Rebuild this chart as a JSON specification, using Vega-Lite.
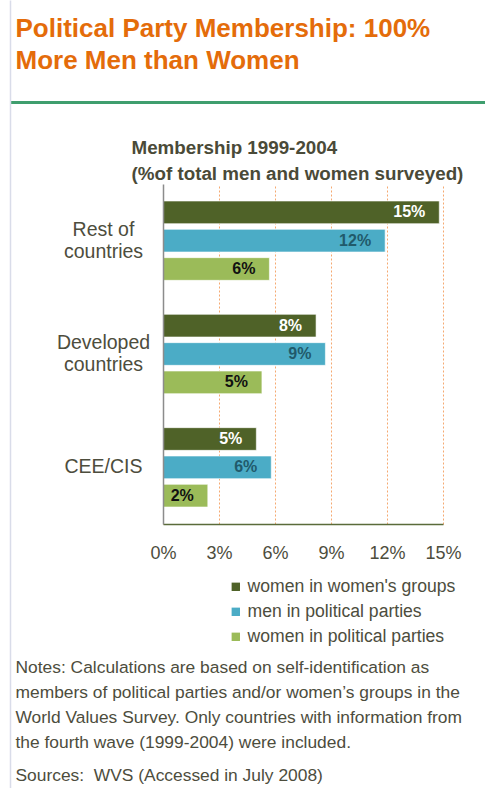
{
  "$schema": "https://vega.github.io/schema/vega-lite/v6.json",
  "width": 280,
  "height": 340,
  "autosize": {"type": "none"},
  "padding": {"left": 163, "top": 184, "right": 42, "bottom": 264},
  "background": "white",
  "config": {
    "view": {"stroke": null},
    "font": "Liberation Sans",
    "axisX": {"gridColor": "#f5a970", "gridDash": [2, 2], "gridWidth": 1}
  },
  "data": {
    "values": [
      {"region": "Rest of countries", "series": "women in women's groups", "value": 0.148},
      {"region": "Rest of countries", "series": "men in political parties", "value": 0.119},
      {"region": "Rest of countries", "series": "women in political parties", "value": 0.057},
      {"region": "Developed countries", "series": "women in women's groups", "value": 0.082},
      {"region": "Developed countries", "series": "men in political parties", "value": 0.087},
      {"region": "Developed countries", "series": "women in political parties", "value": 0.053},
      {"region": "CEE/CIS", "series": "women in women's groups", "value": 0.050},
      {"region": "CEE/CIS", "series": "men in political parties", "value": 0.058},
      {"region": "CEE/CIS", "series": "women in political parties", "value": 0.024}
    ]
  },
  "layer": [
    {
      "layer": [
        {
          "mark": {"type": "bar", "stroke": "#ffffff", "strokeWidth": 1, "strokeOpacity": 0.6},
          "encoding": {
            "y": {
              "field": "region",
              "type": "nominal",
              "sort": ["Rest of countries", "Developed countries", "CEE/CIS"],
              "scale": {"paddingInner": 0.3, "paddingOuter": 0.15},
              "axis": {
                "title": ["Membership 1999-2004", "(%of total men and women surveyed)"],
                "titleAngle": 0,
                "titleAlign": "left",
                "titleBaseline": "alphabetic",
                "titleX": -32,
                "titleY": -31,
                "titleFontSize": 18.8,
                "titleFontWeight": "bold",
                "titleColor": "#4a4a38",
                "titleLineHeight": 26.5,
                "domainColor": "#8c8c8c",
                "domainWidth": 1.5,
                "ticks": false,
                "tickSize": 0,
                "labelAlign": "center",
                "labelBaseline": "middle",
                "labelPadding": 60,
                "labelOffset": {"condition": {"test": "datum.value == 'CEE/CIS'", "value": 0}, "value": -11},
                "labelFontSize": 19.5,
                "labelColor": "#4d4d3d",
                "labelLineHeight": 22,
                "labelExpr": "datum.value == 'Rest of countries' ? ['Rest of', 'countries'] : datum.value == 'Developed countries' ? ['Developed', 'countries'] : datum.value",
                "zindex": 1
              }
            },
            "yOffset": {
              "field": "series",
              "type": "nominal",
              "sort": ["women in women's groups", "men in political parties", "women in political parties"],
              "scale": {"paddingInner": 0.2, "paddingOuter": 0}
            },
            "x": {
              "field": "value",
              "type": "quantitative",
              "scale": {"domain": [0, 0.15], "nice": false},
              "axis": {
                "format": ".0%",
                "values": [0, 0.03, 0.06, 0.09, 0.12, 0.15],
                "grid": true,
                "gridColor": "#f5a970",
                "gridDash": [2, 2],
                "gridWidth": 1,
                "ticks": false,
                "tickSize": 0,
                "domainColor": "#5a6b3a",
                "domainWidth": 1.5,
                "labelFontSize": 18,
                "labelColor": "#4d4d3d",
                "labelPadding": 20,
                "labelFlush": false,
                "title": [
                  "Notes: Calculations are based on self-identification as",
                  "members of political parties and/or women’s groups in the",
                  "World Values Survey. Only countries with information from",
                  "the fourth wave (1999-2004) were included."
                ],
                "titleX": -148,
                "titleY": 148.7,
                "titleAlign": "left",
                "titleAngle": 0,
                "titleBaseline": "alphabetic",
                "titleFontSize": 17.4,
                "titleFontWeight": "normal",
                "titleColor": "#4d4d3d",
                "titleLineHeight": 25
              }
            },
            "color": {
              "field": "series",
              "type": "nominal",
              "scale": {
                "domain": ["women in women's groups", "men in political parties", "women in political parties"],
                "range": ["#4f6228", "#4bacc6", "#9bbb59"]
              },
              "legend": {
                "orient": "none",
                "legendX": 64,
                "legendY": 394,
                "title": null,
                "symbolType": "square",
                "symbolSize": 70,
                "symbolStrokeWidth": 0,
                "labelFontSize": 17.6,
                "labelColor": "#4d4d3d",
                "rowPadding": 6,
                "labelOffset": 3,
                "padding": 0,
                "labelLimit": 300
              }
            }
          }
        },
        {
          "mark": {"type": "text", "align": "right", "dx": -14, "baseline": "middle", "fontWeight": "bold", "fontSize": 16},
          "encoding": {
            "y": {"field": "region", "type": "nominal", "sort": ["Rest of countries", "Developed countries", "CEE/CIS"]},
            "yOffset": {"field": "series", "type": "nominal", "sort": ["women in women's groups", "men in political parties", "women in political parties"]},
            "x": {"field": "value", "type": "quantitative"},
            "text": {"field": "value", "type": "quantitative", "format": ".0%"},
            "color": {
              "condition": [
                {"test": "indexof(datum.series, 'groups') >= 0", "value": "#ffffff"},
                {"test": "indexof(datum.series, 'men in') == 0", "value": "#215a6b"}
              ],
              "value": "#111111"
            }
          }
        }
      ]
    },
    {
      "mark": {"type": "point", "opacity": 0},
      "encoding": {
        "x": {
          "field": "value",
          "type": "quantitative",
          "scale": {"domain": [0, 0.15], "range": [-153, 322], "nice": false},
          "axis": {
            "orient": "top",
            "offset": 82,
            "domainColor": "#3f9e6e",
            "domainWidth": 3,
            "labels": false,
            "ticks": false,
            "grid": false,
            "title": ["Political Party Membership: 100%", "More Men than Women"],
            "titleX": -148,
            "titleY": -65.3,
            "titleAlign": "left",
            "titleAngle": 0,
            "titleBaseline": "alphabetic",
            "titleFontSize": 26,
            "titleFontWeight": "bold",
            "titleColor": "#e46c0a",
            "titleLineHeight": 31.5
          }
        },
        "y": {
          "field": "value",
          "type": "quantitative",
          "scale": {"domain": [0, 0.15], "range": [604, -184], "nice": false},
          "axis": {
            "orient": "left",
            "offset": 153,
            "domainColor": "#d9dce9",
            "domainWidth": 1.5,
            "labels": false,
            "ticks": false,
            "grid": false,
            "title": "Sources:\u00a0 WVS (Accessed in July 2008)",
            "titleX": 5,
            "titleY": 596,
            "titleAlign": "left",
            "titleAngle": 0,
            "titleBaseline": "alphabetic",
            "titleFontSize": 17.4,
            "titleFontWeight": "normal",
            "titleColor": "#4d4d3d"
          }
        }
      }
    }
  ],
  "resolve": {
    "scale": {"x": "independent", "y": "independent"},
    "axis": {"x": "independent", "y": "independent"}
  }
}
